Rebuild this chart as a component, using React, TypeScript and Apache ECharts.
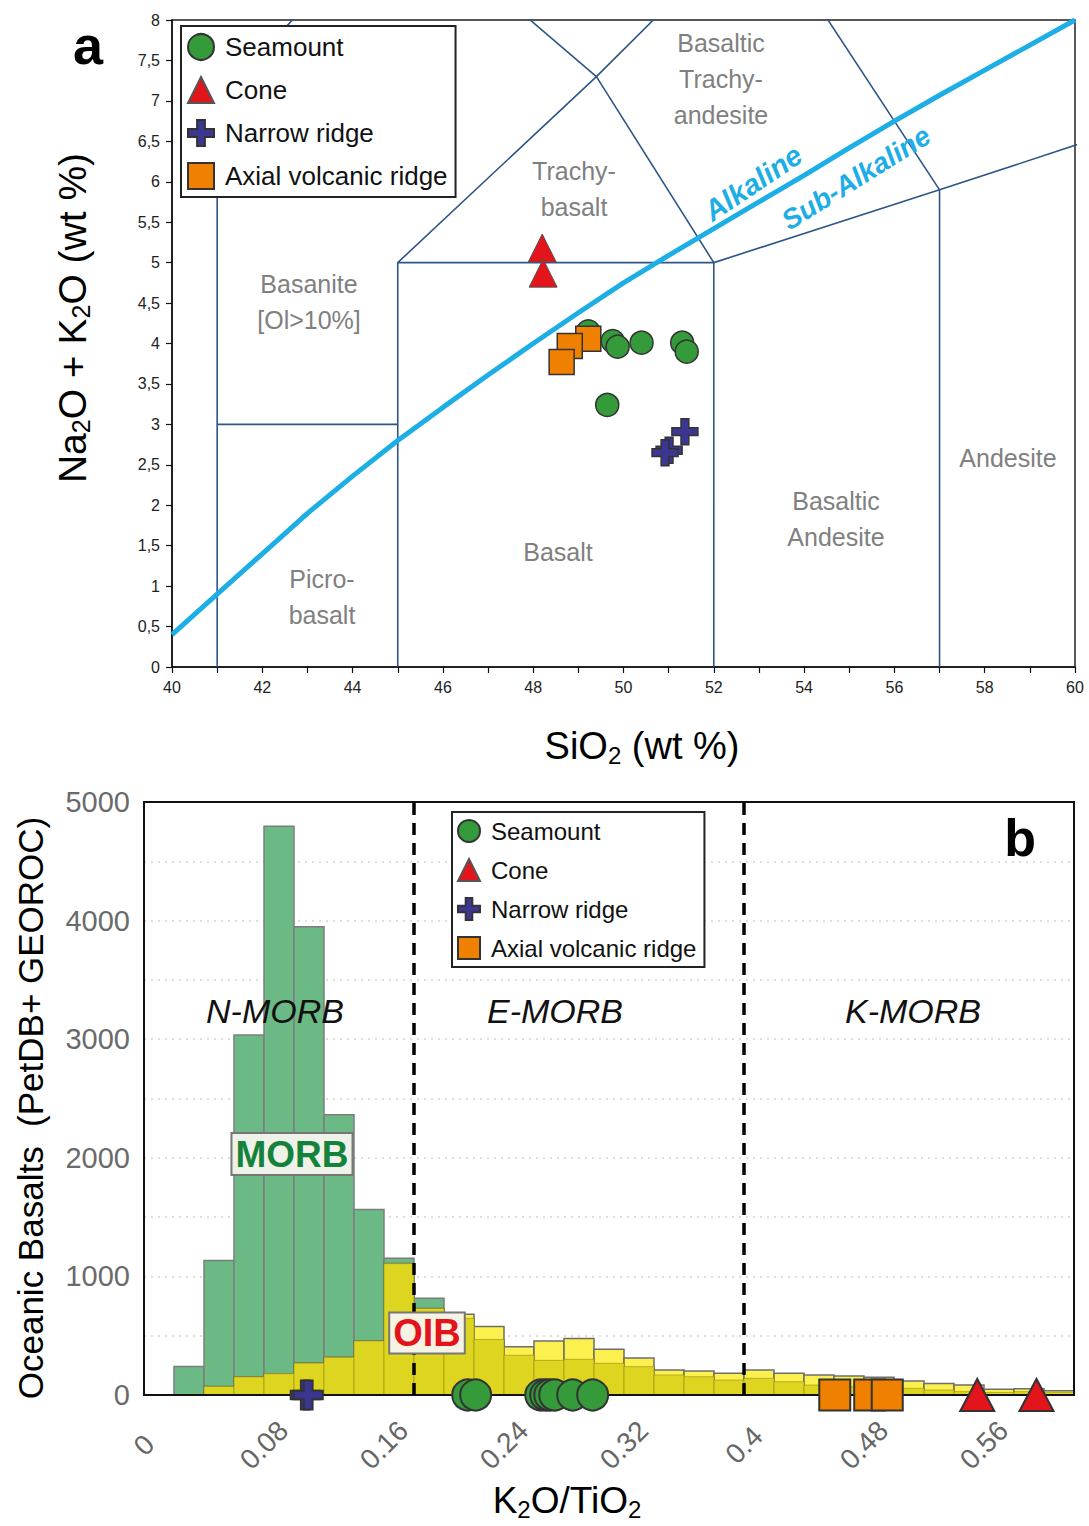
import React, { useEffect, useRef } from 'react';
import * as echarts from 'echarts';

const FONT = "'Liberation Sans', Arial, Helvetica, sans-serif";

// ---------- Panel a : TAS diagram ----------
const tasSegments: number[][][] = [
  [[41, 0], [41, 7], [45, 9.4]],
  [[41, 3], [45, 3]],
  [[45, 0], [45, 5], [52, 5], [52, 0]],
  [[45, 5], [49.4, 7.3], [52, 5]],
  [[45, 9.4], [49.4, 7.3], [53, 9.3]],
  [[52, 5], [57, 5.9], [63, 7]],
  [[57, 0], [57, 5.9], [53, 9.3]],
];
const alkDivSiO2 = [40, 41, 42, 43, 44, 45, 46, 47, 48, 49, 50, 51, 52, 53, 54, 55, 56, 57, 58, 59, 60];
const alkDivAlk = [0.4, 0.9, 1.4, 1.9, 2.36, 2.8, 3.21, 3.61, 4.0, 4.38, 4.75, 5.09, 5.42, 5.75, 6.08, 6.42, 6.75, 7.07, 7.38, 7.69, 8.0];

const seamountSiO2 = [49.22, 49.76, 49.87, 50.4, 51.3, 51.4, 49.64];
const seamountAlk = [4.15, 4.03, 3.96, 4.01, 4.01, 3.9, 3.24];
const coneSiO2 = [48.2, 48.22];
const coneAlk = [5.18, 4.87];
const narrowSiO2 = [51.36, 51.01, 50.92];
const narrowAlk = [2.91, 2.68, 2.65];
const axialSiO2 = [49.22, 48.81, 48.63];
const axialAlk = [4.06, 3.97, 3.77];

// ---------- Panel b : K2O/TiO2 histogram ----------
const binWidth = 0.02;
const firstBin = 0.02;
const morbCounts = [240, 1135, 3035, 4795, 3948, 2362, 1565, 1153, 815, 647, 468, 335, 292, 301, 267, 239, 169, 154, 126, 141, 112, 84, 70, 56, 56, 42, 28, 22, 28, 22];
const oibCounts = [0, 72, 153, 180, 269, 318, 456, 1108, 730, 680, 578, 406, 456, 476, 386, 313, 211, 202, 183, 211, 183, 169, 161, 149, 118, 98, 84, 48, 53, 36];
const morbBoundaries = [0.18, 0.4];

const seamountRatio = [0.2158, 0.2211, 0.2645, 0.2678, 0.2705, 0.2738, 0.2858, 0.2991];
const coneRatio = [0.5555, 0.595];
const narrowRatio = [0.1075, 0.1095];
const axialRatio = [0.4605, 0.4838, 0.4955];

const COLORS = {
  seamount: '#349a3a',
  cone: '#e3141b',
  narrow: '#3b3691',
  axial: '#f08000',
  tas: '#2d5688',
  alk: '#1eaee6',
  morb: '#6bba85',
  oibLight: '#fcf04e',
  oibDark: '#ddd51f',
};

const CROSS = 'path://M35,0H65V35H100V65H65V100H35V65H0V35H35Z';

const markerStyle = (color: string, bw = 1.5) => ({ color, borderColor: '#333', borderWidth: bw, opacity: 1 });

export default function App() {
  const ref = useRef<HTMLDivElement>(null);
  useEffect(() => {
    if (!ref.current) return;
    const chart = echarts.init(ref.current, undefined, { renderer: 'svg' });

    const tasSeries = tasSegments.map((seg) => ({
      type: 'line',
      xAxisIndex: 0,
      yAxisIndex: 0,
      data: seg,
      symbol: 'none',
      silent: true,
      lineStyle: { color: COLORS.tas, width: 1.6 },
      z: 2,
    }));

    const bins = morbCounts.map((_, i) => firstBin + i * binWidth);
    const histData = (counts: number[]) =>
      counts
        .map((c, i) => [bins[i], bins[i] + binWidth, c])
        .filter((d) => d[2] > 0);
    const overlap = morbCounts.map((m, i) => Math.min(m, oibCounts[i]));

    const histRender = (fill: string, stroke: string, lw: number) => (params: any, api: any) => {
      const x0 = api.value(0);
      const x1 = api.value(1);
      const v = api.value(2);
      const p0 = api.coord([x0, 0]);
      const p1 = api.coord([x1, v]);
      return {
        type: 'rect',
        shape: { x: p0[0], y: p1[1], width: p1[0] - p0[0], height: p0[1] - p1[1] },
        style: { fill, stroke, lineWidth: lw },
      };
    };

    const histSeries = (name: string, counts: number[], fill: string, stroke: string, lw: number) => ({
      type: 'custom',
      name,
      xAxisIndex: 1,
      yAxisIndex: 1,
      renderItem: histRender(fill, stroke, lw),
      encode: { x: [0, 1], y: 2 },
      data: histData(counts),
      silent: true,
      z: 2,
    });

    const sub = (size: number, pad: number) => ({ fontSize: size, fontFamily: FONT, padding: [pad, 0, 0, 0], fill: '#000' });

    const option: any = {
      animation: false,
      textStyle: { fontFamily: FONT },
      grid: [
        { left: 172, top: 20, width: 903, height: 647, show: true, borderColor: '#222', borderWidth: 1.5, backgroundColor: 'transparent' },
        { left: 144, top: 802, width: 930, height: 593, show: false },
      ],
      xAxis: [
        {
          gridIndex: 0, type: 'value', min: 40, max: 60, interval: 1,
          axisLine: { lineStyle: { color: '#111', width: 1.5 } },
          axisTick: { show: true, inside: false, length: 6, lineStyle: { color: '#111', width: 1.2 } },
          axisLabel: { fontSize: 16, color: '#222', margin: 12, fontFamily: FONT, formatter: (v: number) => (v % 2 === 0 ? String(v) : '') },
          splitLine: { show: false },
        },
        {
          gridIndex: 1, type: 'value', min: 0, max: 0.62, interval: 0.08,
          axisLine: { lineStyle: { color: '#111', width: 2 } },
          axisTick: { show: false },
          axisLabel: {
            fontSize: 28, color: '#666', rotate: 45, align: 'center', verticalAlign: 'middle', margin: 50, fontFamily: FONT,
            formatter: (v: number) => (v > 0.57 ? '' : String(+v.toFixed(2))),
          },
          splitLine: { show: false },
        },
      ],
      yAxis: [
        {
          gridIndex: 0, type: 'value', min: 0, max: 8, interval: 0.5,
          axisLine: { show: true, lineStyle: { color: '#111', width: 1.5 } },
          axisTick: { show: true, inside: false, length: 6, lineStyle: { color: '#111', width: 1.2 } },
          axisLabel: { fontSize: 16, color: '#222', margin: 12, fontFamily: FONT, formatter: (v: number) => String(v).replace('.', ',') },
          splitLine: { show: false },
        },
        {
          gridIndex: 1, type: 'value', min: 0, max: 5000, interval: 500,
          axisLine: { show: true, lineStyle: { color: '#111', width: 2 } },
          axisTick: { show: false },
          axisLabel: { fontSize: 29, color: '#6a6a6a', margin: 14, fontFamily: FONT, formatter: (v: number) => (v % 1000 === 0 ? String(v) : '') },
          splitLine: { show: true, lineStyle: { color: '#d4d4d4', type: [2, 5], width: 1.5 } },
        },
      ],
      legend: [
        {
          data: ['Seamount', 'Cone', 'Narrow ridge', 'Axial volcanic ridge'],
          orient: 'vertical', left: 181, top: 26, z: 10,
          backgroundColor: '#fff', borderColor: '#222', borderWidth: 2, padding: [6, 8, 6, 6],
          itemWidth: 26, itemHeight: 26, itemGap: 13,
          textStyle: { fontSize: 26, color: '#111', fontFamily: FONT, lineHeight: 30, padding: [0, 0, 0, 6] },
          selectedMode: false,
        },
        {
          data: ['Seamount', 'Cone', 'Narrow ridge', 'Axial volcanic ridge'],
          orient: 'vertical', left: 452, top: 812, z: 10,
          backgroundColor: '#fff', borderColor: '#222', borderWidth: 2, padding: [5, 8, 5, 5],
          itemWidth: 22, itemHeight: 22, itemGap: 11,
          textStyle: { fontSize: 24, color: '#111', fontFamily: FONT, lineHeight: 28, padding: [0, 0, 0, 6] },
          selectedMode: false,
        },
      ],
      series: [
        ...tasSeries,
        {
          type: 'line', xAxisIndex: 0, yAxisIndex: 0, silent: true,
          data: alkDivSiO2.map((x, i) => [x, alkDivAlk[i]]),
          symbol: 'none', smooth: false,
          lineStyle: { color: COLORS.alk, width: 5 }, z: 3,
        },
        { type: 'scatter', name: 'Seamount', xAxisIndex: 0, yAxisIndex: 0, symbol: 'circle', symbolSize: 23, data: seamountSiO2.map((x, i) => [x, seamountAlk[i]]), itemStyle: markerStyle(COLORS.seamount), z: 5 },
        { type: 'scatter', name: 'Cone', xAxisIndex: 0, yAxisIndex: 0, symbol: 'triangle', symbolSize: [28, 28], data: coneSiO2.map((x, i) => [x, coneAlk[i]]), itemStyle: { color: COLORS.cone, borderColor: '#555', borderWidth: 1, opacity: 1 }, z: 5 },
        { type: 'scatter', name: 'Narrow ridge', xAxisIndex: 0, yAxisIndex: 0, symbol: CROSS, symbolSize: 26, data: narrowSiO2.map((x, i) => [x, narrowAlk[i]]), itemStyle: markerStyle(COLORS.narrow), z: 5 },
        { type: 'scatter', name: 'Axial volcanic ridge', xAxisIndex: 0, yAxisIndex: 0, symbol: 'rect', symbolSize: 25, data: axialSiO2.map((x, i) => [x, axialAlk[i]]), itemStyle: markerStyle(COLORS.axial), z: 6 },

        histSeries('MORB', morbCounts, COLORS.morb, '#7d7d7d', 1.5),
        histSeries('OIB', oibCounts, COLORS.oibLight, '#6e6e6e', 1.5),
        histSeries('overlap', overlap, COLORS.oibDark, 'rgba(150,140,20,0.6)', 1),
        ...morbBoundaries.map((b) => ({
          type: 'line', xAxisIndex: 1, yAxisIndex: 1, silent: true,
          data: [[b, 0], [b, 5000]], symbol: 'none',
          lineStyle: { color: '#000', width: 3.5, type: [12, 8] }, z: 4,
        })),
        { type: 'scatter', name: 'Seamount', xAxisIndex: 1, yAxisIndex: 1, clip: false, symbol: 'circle', symbolSize: 31, data: seamountRatio.map((x) => [x, 0]), itemStyle: markerStyle(COLORS.seamount, 2), z: 6 },
        { type: 'scatter', name: 'Cone', xAxisIndex: 1, yAxisIndex: 1, clip: false, symbol: 'triangle', symbolSize: [34, 32], data: coneRatio.map((x) => [x, 0]), itemStyle: markerStyle(COLORS.cone, 2), z: 6 },
        { type: 'scatter', name: 'Narrow ridge', xAxisIndex: 1, yAxisIndex: 1, clip: false, symbol: CROSS, symbolSize: 29, data: narrowRatio.map((x) => [x, 0]), itemStyle: markerStyle(COLORS.narrow, 2), z: 6 },
        { type: 'scatter', name: 'Axial volcanic ridge', xAxisIndex: 1, yAxisIndex: 1, clip: false, symbol: 'rect', symbolSize: 31, data: axialRatio.map((x) => [x, 0]), itemStyle: markerStyle(COLORS.axial, 2), z: 6 },
      ],
      graphic: [
        // frame of panel b
        { type: 'rect', z: 3, silent: true, shape: { x: 144, y: 802, width: 930, height: 593 }, style: { fill: 'none', stroke: '#111', lineWidth: 2 } },
        // panel a texts
        { type: 'text', x: 88, y: 45, z: 20, style: { text: 'a', font: `bold 54px ${FONT}`, fill: '#000', align: 'center', verticalAlign: 'middle' } },
        { type: 'text', x: 721, y: 79, z: 1, style: { text: 'Basaltic\nTrachy-\nandesite', font: `25px ${FONT}`, fill: '#808080', align: 'center', verticalAlign: 'middle', lineHeight: 36 } },
        { type: 'text', x: 574, y: 189, z: 1, style: { text: 'Trachy-\nbasalt', font: `25px ${FONT}`, fill: '#808080', align: 'center', verticalAlign: 'middle', lineHeight: 36 } },
        { type: 'text', x: 309, y: 302, z: 1, style: { text: 'Basanite\n[Ol>10%]', font: `25px ${FONT}`, fill: '#808080', align: 'center', verticalAlign: 'middle', lineHeight: 36 } },
        { type: 'text', x: 322, y: 597, z: 1, style: { text: 'Picro-\nbasalt', font: `25px ${FONT}`, fill: '#808080', align: 'center', verticalAlign: 'middle', lineHeight: 36 } },
        { type: 'text', x: 558, y: 552, z: 1, style: { text: 'Basalt', font: `25px ${FONT}`, fill: '#808080', align: 'center', verticalAlign: 'middle' } },
        { type: 'text', x: 836, y: 519, z: 1, style: { text: 'Basaltic\nAndesite', font: `25px ${FONT}`, fill: '#808080', align: 'center', verticalAlign: 'middle', lineHeight: 36 } },
        { type: 'text', x: 1008, y: 458, z: 1, style: { text: 'Andesite', font: `25px ${FONT}`, fill: '#808080', align: 'center', verticalAlign: 'middle' } },
        { type: 'text', x: 753, y: 183, rotation: (34 * Math.PI) / 180, z: 10, style: { text: 'Alkaline', font: `italic bold 29px ${FONT}`, fill: COLORS.alk, align: 'center', verticalAlign: 'middle' } },
        { type: 'text', x: 856, y: 178, rotation: (32 * Math.PI) / 180, z: 10, style: { text: 'Sub-Alkaline', font: `italic bold 28px ${FONT}`, fill: COLORS.alk, align: 'center', verticalAlign: 'middle' } },
        {
          type: 'text', x: 642, y: 746, z: 10,
          style: { text: '{n|SiO}{s|2}{n| (wt %)}', align: 'center', verticalAlign: 'middle', rich: { n: { fontSize: 38, fontFamily: FONT, fill: '#000' }, s: sub(24, 18) } },
        },
        {
          type: 'text', x: 72, y: 318, rotation: Math.PI / 2, z: 10,
          style: { text: '{n|Na}{s|2}{n|O + K}{s|2}{n|O (wt %)}', align: 'center', verticalAlign: 'middle', rich: { n: { fontSize: 39, fontFamily: FONT, fill: '#000' }, s: sub(25, 18) } },
        },
        // panel b texts
        { type: 'text', x: 1020, y: 838, z: 20, style: { text: 'b', font: `bold 52px ${FONT}`, fill: '#000', align: 'center', verticalAlign: 'middle' } },
        { type: 'text', x: 275, y: 1011, z: 10, style: { text: 'N-MORB', font: `italic 34px ${FONT}`, fill: '#111', align: 'center', verticalAlign: 'middle' } },
        { type: 'text', x: 555, y: 1011, z: 10, style: { text: 'E-MORB', font: `italic 34px ${FONT}`, fill: '#111', align: 'center', verticalAlign: 'middle' } },
        { type: 'text', x: 913, y: 1011, z: 10, style: { text: 'K-MORB', font: `italic 34px ${FONT}`, fill: '#111', align: 'center', verticalAlign: 'middle' } },
        {
          type: 'text', x: 292, y: 1154, z: 10,
          style: { text: 'MORB', font: `bold 37px ${FONT}`, fill: '#14823a', align: 'center', verticalAlign: 'middle', backgroundColor: '#eef2e8', borderColor: '#777', borderWidth: 2, padding: [2, 3, 1, 3] },
        },
        {
          type: 'text', x: 427, y: 1333, z: 10,
          style: { text: 'OIB', font: `bold 38px ${FONT}`, fill: '#e3131b', align: 'center', verticalAlign: 'middle', backgroundColor: '#f6f3e4', borderColor: '#777', borderWidth: 2, padding: [1, 3, 0, 3] },
        },
        {
          type: 'text', x: 567, y: 1500, z: 10,
          style: { text: '{n|K}{s|2}{n|O/TiO}{s|2}', align: 'center', verticalAlign: 'middle', rich: { n: { fontSize: 37, fontFamily: FONT, fill: '#000' }, s: sub(24, 18) } },
        },
        {
          type: 'text', x: 30, y: 1108, rotation: Math.PI / 2, z: 10,
          style: { text: 'Oceanic Basalts  (PetDB+ GEOROC)', font: `35px ${FONT}`, fill: '#000', align: 'center', verticalAlign: 'middle' },
        },
      ],
    };

    chart.setOption(option);
    return () => chart.dispose();
  }, []);

  return <div ref={ref} style={{ position: 'absolute', left: 0, top: 0, width: 1089, height: 1526, background: '#fff' }} />;
}
